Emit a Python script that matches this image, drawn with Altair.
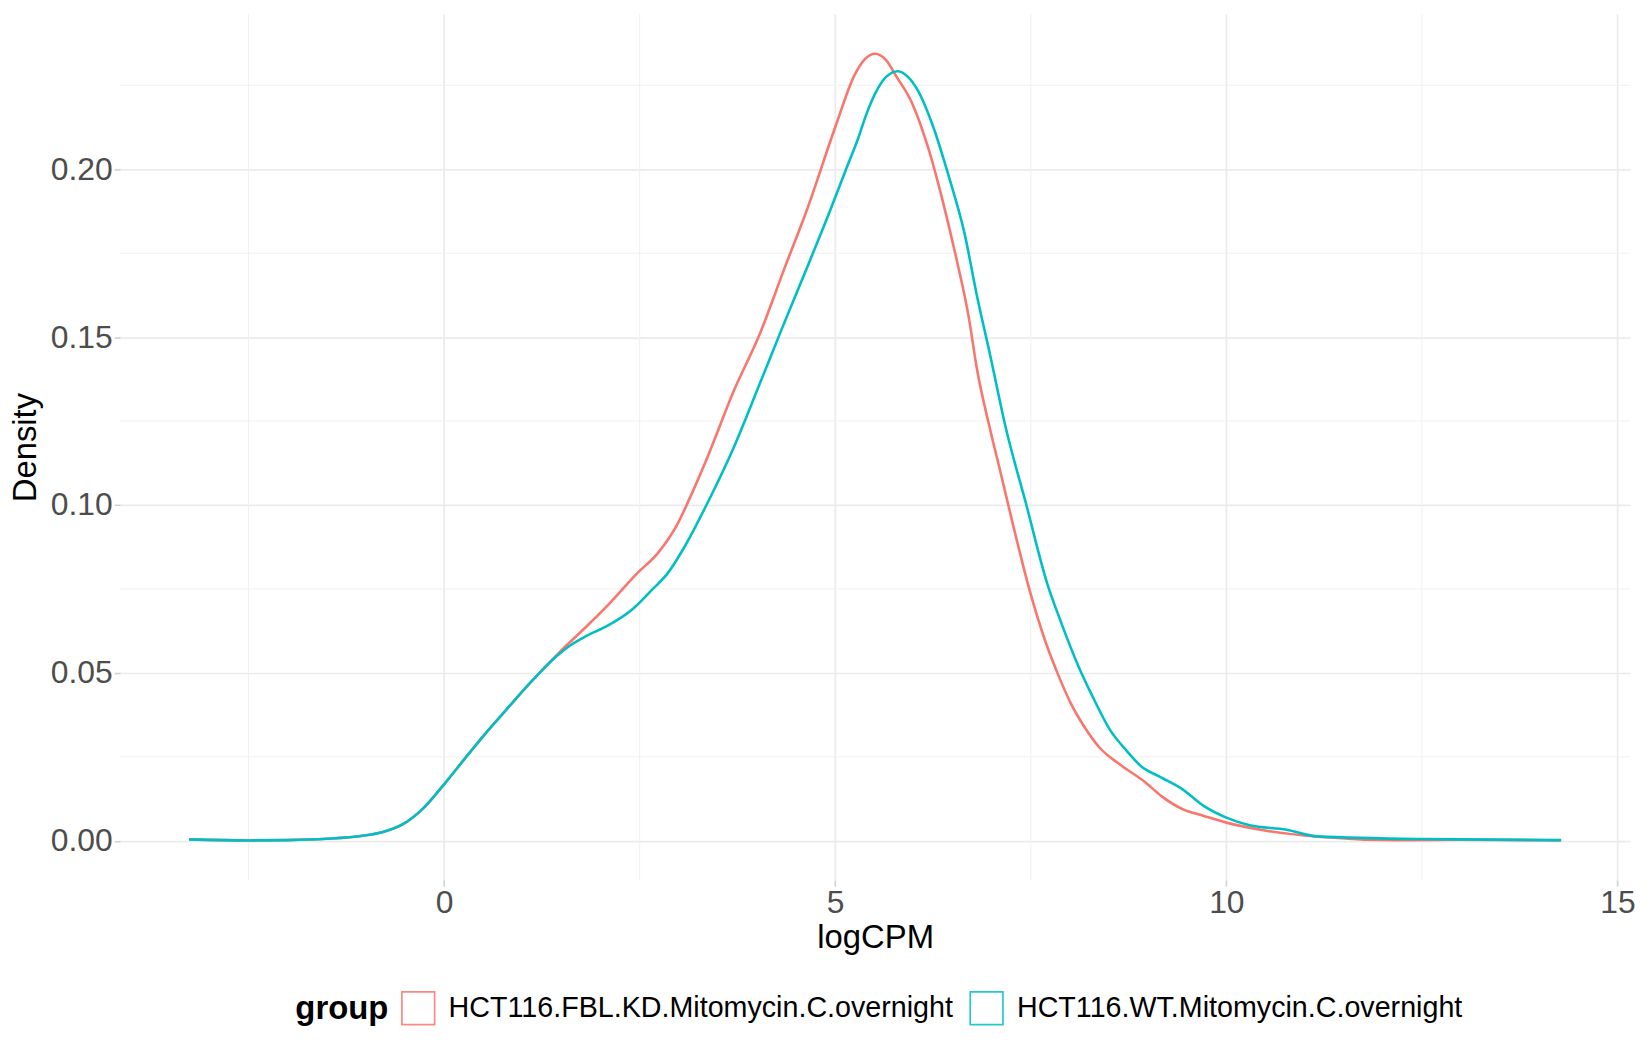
import altair as alt
import pandas as pd

# ---------------- data ----------------
GROUPS = ["HCT116.FBL.KD.Mitomycin.C.overnight", "HCT116.WT.Mitomycin.C.overnight"]
COLORS = ["#F8766D", "#00BFC4"]

kd_x = [-3.26, -2.5, -2.0, -1.5, -1.04, -0.78, -0.52, -0.26, 0.0, 0.26, 0.52, 0.78,
        1.10, 1.49, 1.82, 2.08, 2.47, 2.73, 2.99, 3.12, 3.38, 3.70, 4.03, 4.35, 4.64,
        5.00, 5.25, 5.38, 5.51, 5.65, 5.78, 5.98, 6.18, 6.38, 6.54, 6.71, 6.81, 6.98,
        7.10, 7.28, 7.48, 7.68, 7.84, 8.01, 8.18, 8.38, 8.64, 8.97, 9.17, 9.44, 9.71,
        10.0, 10.51, 11.17, 12.17, 13.0, 14.27]
kd_y = [0.0004, 0.0001, 0.0002, 0.0006, 0.0015, 0.0026, 0.0050, 0.0098, 0.0168, 0.0243,
        0.0317, 0.0386, 0.0470, 0.0565, 0.0638, 0.0698, 0.0797, 0.0856, 0.0946, 0.1010,
        0.1150, 0.1338, 0.1506, 0.1704, 0.1880, 0.2125, 0.2282, 0.2328, 0.2344, 0.2325,
        0.2277, 0.2198, 0.2070, 0.1900, 0.1743, 0.1555, 0.1407, 0.1225, 0.1110, 0.0934,
        0.0750, 0.0598, 0.0500, 0.0410, 0.0341, 0.0277, 0.0227, 0.0173, 0.0133, 0.0094,
        0.0074, 0.0054, 0.0030, 0.0012, 0.0002, 0.0003, 0.0001]

wt_x = [-3.26, -2.5, -2.0, -1.5, -1.04, -0.78, -0.52, -0.26, 0.0, 0.26, 0.52, 0.78,
        1.10, 1.43, 1.62, 1.82, 2.08, 2.40, 2.66, 2.86, 3.05, 3.38, 3.70, 4.03, 4.32,
        4.68, 4.94, 5.13, 5.29, 5.40, 5.51, 5.65, 5.80, 5.93, 6.05, 6.25, 6.45, 6.65,
        6.81, 6.98, 7.18, 7.44, 7.71, 7.88, 8.11, 8.31, 8.51, 8.71, 8.91, 9.17, 9.44,
        9.71, 10.0, 10.30, 10.77, 11.17, 12.5, 13.0, 14.28]
wt_y = [0.0004, 0.0001, 0.0002, 0.0006, 0.0015, 0.0026, 0.0050, 0.0098, 0.0168, 0.0243,
        0.0317, 0.0386, 0.0470, 0.0548, 0.0583, 0.0610, 0.0639, 0.0688, 0.0748, 0.0797,
        0.0866, 0.1012, 0.1170, 0.1358, 0.1526, 0.1730, 0.1880, 0.1995, 0.2090, 0.2165,
        0.2225, 0.2275, 0.2292, 0.2275, 0.2237, 0.2128, 0.1980, 0.1812, 0.1625, 0.1447,
        0.1230, 0.1003, 0.0766, 0.0655, 0.0519, 0.0420, 0.0331, 0.0272, 0.0222, 0.0188,
        0.0153, 0.0104, 0.0069, 0.0046, 0.0033, 0.0013, 0.0005, 0.0004, 0.0002]

X_MAJOR = [0, 5, 10, 15]
X_MINOR = [-2.5, 2.5, 7.5, 12.5]
Y_MAJOR = [0.0, 0.05, 0.10, 0.15, 0.20]
Y_MINOR = [0.025, 0.075, 0.125, 0.175, 0.225]
X_DOMAIN = [-4.14, 15.16]
Y_DOMAIN = [-0.0117, 0.2462]

# ---------------- tables ----------------
df = pd.concat([
    pd.DataFrame({"logCPM": kd_x, "density": kd_y, "group": GROUPS[0]}),
    pd.DataFrame({"logCPM": wt_x, "density": wt_y, "group": GROUPS[1]}),
], ignore_index=True)
vgrid = pd.DataFrame({"logCPM": X_MINOR})
hgrid = pd.DataFrame({"density": Y_MINOR})

FONT = "Liberation Sans"
xs = alt.Scale(domain=X_DOMAIN, nice=False, zero=False)
ys = alt.Scale(domain=Y_DOMAIN, nice=False, zero=False)

xaxis = alt.Axis(title="logCPM", values=X_MAJOR, format="d", grid=True, domain=False,
                 gridColor="#EBEBEB", gridWidth=1.7, tickColor="#D0D0D0", tickWidth=1.6,
                 tickSize=6, labelFontSize=32, labelColor="#4D4D4D", labelPadding=2,
                 labelFont=FONT, titleFont=FONT, titleFontSize=33, titleFontWeight="normal",
                 titleColor="black", titlePadding=3)
yaxis = alt.Axis(title="Density", values=Y_MAJOR, format=".2f", grid=True, domain=False,
                 gridColor="#EBEBEB", gridWidth=1.7, tickColor="#D0D0D0", tickWidth=1.6,
                 tickSize=6, labelFontSize=32, labelColor="#4D4D4D", labelPadding=2,
                 labelFont=FONT, titleFont=FONT, titleFontSize=33, titleFontWeight="normal",
                 titleColor="black", titlePadding=8)

vminor = alt.Chart(vgrid).mark_rule(color="#F0F0F0", strokeWidth=1.0).encode(
    x=alt.X("logCPM:Q", scale=xs, axis=xaxis)
)
hminor = alt.Chart(hgrid).mark_rule(color="#F0F0F0", strokeWidth=1.0).encode(
    y=alt.Y("density:Q", scale=ys, axis=yaxis)
)

lines = alt.Chart(df).mark_line(strokeWidth=2.6, interpolate="monotone").encode(
    x=alt.X("logCPM:Q", scale=xs, axis=xaxis),
    y=alt.Y("density:Q", scale=ys, axis=yaxis),
    color=alt.Color(
        "group:N",
        scale=alt.Scale(domain=GROUPS, range=COLORS),
        legend=alt.Legend(
            title="group", orient="none", legendX=176, legendY=981,
            direction="horizontal", titleOrient="left",
            titleFont=FONT, titleFontSize=33, titleFontWeight="bold", titleColor="black",
            titlePadding=12, titleBaseline="middle",
            labelFont=FONT, labelFontSize=28.8, labelColor="black", labelOffset=13,
            labelLimit=2000,
            symbolType="square", symbolSize=1080, symbolStrokeWidth=1.7,
            symbolFillColor="transparent", symbolOpacity=0.85,
            columnPadding=13, padding=0,
        ),
    ),
)

chart = alt.layer(vminor, hminor, lines).properties(
    width=1517,
    height=870,
    padding={"left": 112.7, "top": 3.7, "right": 12, "bottom": 168},
    autosize=alt.AutoSizeParams(type="none"),
).configure(
    font=FONT, background="white", view=alt.ViewConfig(stroke=None)
)

chart.save("out.html", embed_options={"renderer": "svg", "actions": False})
